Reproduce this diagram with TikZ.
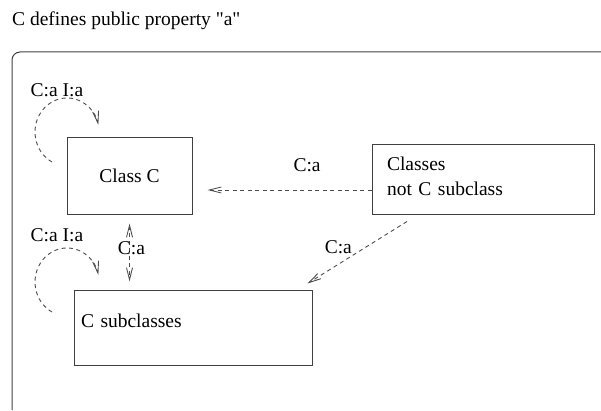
\documentclass[tikz,border=0pt]{standalone}
\usepackage{fontspec}
\setmainfont{Liberation Serif}[Ligatures=TeXOff]
\usepackage{tikz}
\usetikzlibrary{positioning, calc, arrows.meta}

\begin{document}
\begin{tikzpicture}[x=1pt, y=1pt,
	every node/.style={font=\fontsize{19.5}{25}\selectfont, text=black},
	box/.style={draw=black!75, line width=1pt, inner sep=0pt},
	flow/.style={draw=black!70, line width=0.9pt, dash pattern=on 4pt off 3.5pt, -{Straight Barb[length=12pt, width=6pt]}},
	label/.style={inner sep=0pt}]
\useasboundingbox (0,0) rectangle (601,410);

\node[label, anchor=base west] (title) at (12,384) {C defines public property "a"};
\draw[black!75, line width=1pt, rounded corners=8pt] (12,0) -- (12,358) -- (601,358);

% boxes
\node[box, minimum width=125pt, minimum height=76pt] (classc) at (129.5,234) {Class C};
\node[box, minimum width=222pt, minimum height=69pt, text width=192pt, inner xsep=15pt, align=left, text depth=32.3pt] (notc) at (483,230.5) {Classes\\not C subclass};
\node[box, minimum width=238pt, minimum height=75pt, text width=224pt, inner xsep=7pt, align=left, text depth=13pt] (subc) at (193,82.5) {C subclasses};

% self loops
\coordinate (loopa) at (52,248);
\coordinate (loopb) at (52,98);
\draw[flow] (loopa) arc[start angle=242, end angle=12, x radius=32, y radius=34];
\draw[flow] (loopb) arc[start angle=242, end angle=12, x radius=32, y radius=34];
\node[label] (la) at (57,320) {C:a I:a};
\node[label] (lb) at (57,175) {C:a I:a};

% property flows
\draw[flow, {Straight Barb[length=12pt, width=6pt]}-{Straight Barb[length=12pt, width=6pt]}, shorten <=9pt, shorten >=8pt] (classc.south) -- (classc.south |- subc.north) node[label, pos=0.45, xshift=2pt] {C:a};
\draw[flow, shorten >=15pt] ([yshift=-10.5pt]notc.west) -- ([yshift=-10.5pt]notc.west -| classc.east) node[label, pos=0.36, yshift=25pt] {C:a};
\draw[flow] ([xshift=-76pt, yshift=-7pt]notc.south) -- ([xshift=-5pt, yshift=6pt]subc.north east) node[label, pos=0.69, yshift=17pt] {C:a};

\end{tikzpicture}
\end{document}
